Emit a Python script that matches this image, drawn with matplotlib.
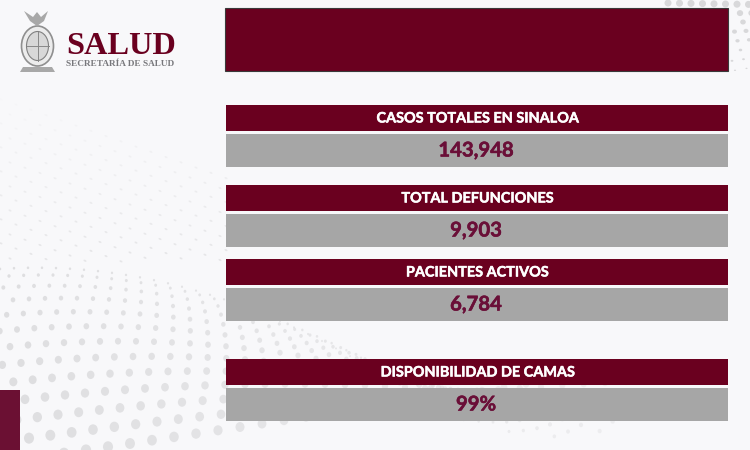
import numpy as np
import matplotlib
matplotlib.use("Agg")
import matplotlib.pyplot as plt
import matplotlib.patheffects as pe
from matplotlib.patches import Rectangle, Ellipse, Polygon

titles = ["CASOS TOTALES EN SINALOA", "TOTAL DEFUNCIONES", "PACIENTES ACTIVOS", "DISPONIBILIDAD DE CAMAS"]
values = ["143,948", "9,903", "6,784", "99%"]

MAROON = "#6a001f"
VALUE_INK = "#6a0f38"
GRAY = "#a6a6a6"
W, H = 750, 450
header_tops = [105, 185, 259, 359]

fig = plt.figure(figsize=(7.5, 4.5), dpi=100, facecolor="#f8f8fa")
ax = fig.add_axes([0, 0, 1, 1])
ax.set_xlim(0, W)
ax.set_ylim(H, 0)
ax.axis("off")

# decorative dot field, lower left
for r in range(13):
    t = r / 12
    for c in range(-8, 32):
        x = c * (14 + 8 * t) + (7 + 4 * t) * (r % 2) + 20 * t
        y = 262 + 195 * t ** 1.3 + 0.3 * (x - 40) * (0.5 - t) + 0.0009 * (x - 120) ** 2 * (1 - t)
        if x < -5 or x > 660 or y < 250 or y > 458:
            continue
        fade = max(0.0, 1 - x / 660)
        d = (2.5 + 8.5 * t) * (0.5 + 0.5 * fade)
        ax.add_patch(Ellipse((x, y), d, d * 1.1, color="#dedee0", alpha=min(1, 0.35 + 0.65 * fade), lw=0, zorder=1))
# fine dots fading upward
for r in range(14):
    for c in range(16):
        x = -5 + c * 15 + 6 * (r % 2)
        y = 255 - r * 12 + x * 0.35
        if y < 90 or y > 262:
            continue
        a = min(1, max(0.1, 1 - (255 - y) / 170))
        ax.add_patch(Ellipse((x, y), 3.2, 1.8, angle=25, color="#e6e6e8", lw=0, alpha=a, zorder=1))
# top right corner dots
for r in range(8):
    for c in range(8):
        x = 668 + c * 11.5 + r * 3
        y = 3 + r * 9.5 + c * 0.2 - (c - 4) * r * 0.3
        if x < 732 and y > 6:
            continue
        d = max(2.0, 7 - r * 0.7)
        ax.add_patch(Ellipse((x, y), d, d * (1 - r * 0.05), color="#d8d8da", lw=0, zorder=1))

# top banner and side tab
ax.add_patch(Rectangle((225, 8), 503, 62.5, fc=MAROON, ec="#3a3a3a", lw=0.8, zorder=3))
ax.add_patch(Rectangle((0, 390), 20, 60, fc="#6b1033", ec="none", zorder=3))

# panels
for title, value, top in zip(titles, values, header_tops):
    ax.add_patch(Rectangle((225.5, top), 502.5, 26, fc=MAROON, ec="none", zorder=3))
    ax.add_patch(Rectangle((225.5, top + 29), 502.5, 32.5, fc=GRAY, ec="none", zorder=3))
    ax.text(477, top + 13.5, title, color="white", fontsize=10.4, fontweight="bold",
            family="Lato", ha="center", va="center", zorder=4,
            path_effects=[pe.withStroke(linewidth=0.35, foreground="white")])
    ax.text(476, top + 45.5, value, color=VALUE_INK, fontsize=14.6, fontweight="bold",
            family="Lato", ha="center", va="center", zorder=4,
            path_effects=[pe.withStroke(linewidth=0.4, foreground=VALUE_INK)])

# logo
ax.text(66, 46.5, "SALUD", color=MAROON, fontsize=23.3, fontweight="bold", family="Liberation Serif",
        ha="left", va="center", zorder=4)
ax.text(66, 64.5, "SECRETARÍA DE SALUD", color="#77777b", fontsize=6.7, fontweight="bold",
        family="Liberation Serif", ha="left", va="center", zorder=4)
ax.add_patch(Ellipse((37.5, 46), 32, 40, fc="#ececec", ec="#8f8f8f", lw=1.2, zorder=3))
ax.add_patch(Ellipse((37.5, 46), 22, 29, fc="#d8d8d8", ec="#808080", lw=0.8, zorder=4))
ax.plot([26.5, 48.5], [46, 46], color="#888888", lw=0.7, zorder=5)
ax.plot([37.5, 37.5], [31.5, 60.5], color="#888888", lw=0.7, zorder=5)
ax.add_patch(Polygon([(24, 11), (33, 17), (37, 12), (41, 17), (48, 11), (44, 21), (37, 26), (30, 21)],
                     fc="#a8a8a8", ec="none", zorder=4))
ax.add_patch(Polygon([(20, 72), (55, 72), (52, 67), (23, 67)], fc="#a8a8a8", ec="none", zorder=4))

fig.savefig("out.png", dpi=100)
